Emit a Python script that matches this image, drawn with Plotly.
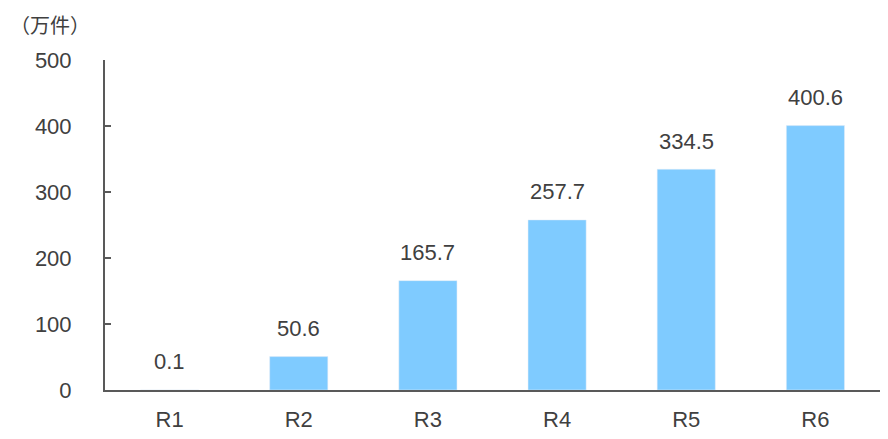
import plotly.graph_objects as go

categories = ["R1", "R2", "R3", "R4", "R5", "R6"]
values = [0.1, 50.6, 165.7, 257.7, 334.5, 400.6]
labels = ["0.1", "50.6", "165.7", "257.7", "334.5", "400.6"]
y_ticks = [0, 100, 200, 300, 400, 500]
unit_label = "（万件）"

FONT = "Liberation Sans Narrow, Arial Narrow, Liberation Sans, Arial, sans-serif"
TXT = "#404040"
AX = "#595959"

fig = go.Figure()
fig.add_trace(go.Bar(x=categories, y=values, marker_color="#7FCBFF", width=0.45,
                     hoverinfo="skip"))

for c, v, t in zip(categories, values, labels):
    fig.add_annotation(x=c, y=v, text=t, showarrow=False, yshift=28,
                       font=dict(family=FONT, size=22, color=TXT))

fig.add_annotation(xref="paper", yref="paper", x=-0.124, y=1.155, xanchor="left",
                   yanchor="top", text=unit_label, showarrow=False, borderpad=0,
                   font=dict(family="Noto Sans CJK SC", size=20, color=TXT))

fig.update_layout(
    width=888, height=439,
    margin=dict(l=97, r=16, t=52, b=57),
    paper_bgcolor="white", plot_bgcolor="white",
    showlegend=False,
    font=dict(family=FONT, size=22, color=TXT),
)
fig.update_xaxes(showline=True, linecolor=AX, linewidth=2, ticks="",
                 showgrid=False, ticklabelstandoff=9,
                 tickfont=dict(family=FONT, size=22, color=TXT))
fig.update_yaxes(range=[0, 500], tickvals=y_ticks, showline=True, linecolor=AX,
                 linewidth=2, ticks="inside", ticklen=6, tickcolor=AX, tickwidth=2,
                 showgrid=False, zeroline=False, ticklabelstandoff=27,
                 tickfont=dict(family=FONT, size=22, color=TXT))

fig.write_html("out.html")
